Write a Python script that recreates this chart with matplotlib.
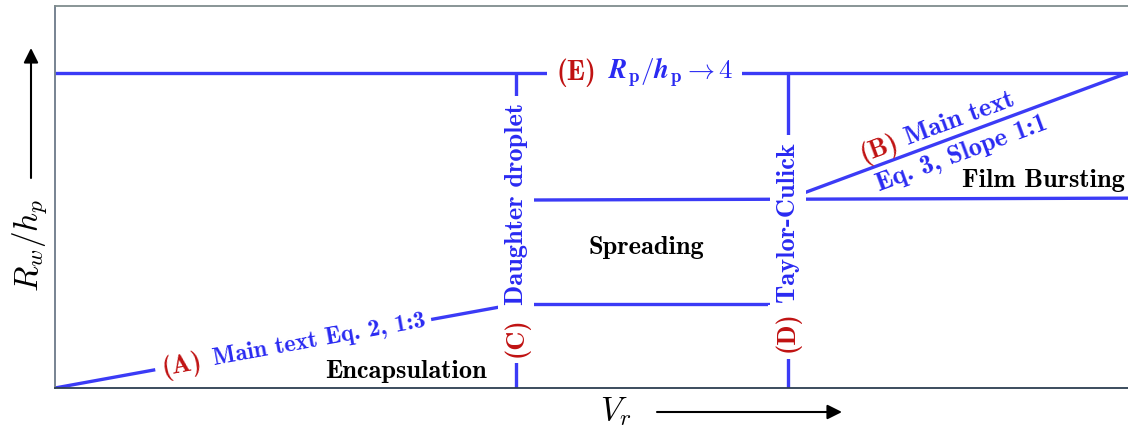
import numpy as np
import matplotlib.pyplot as plt

plt.rcParams['mathtext.fontset'] = 'cm'

# Regime map boundaries, schematic units for V_r (x) and R_w/h_p (y)
cap_x = [0.0, 100.0]
cap_y = [82.5, 82.5]
line_A_x = [0.0, 43.0]
line_A_y = [0.0, 22.0]
line_B_x = [68.3, 100.0]
line_B_y = [49.5, 82.5]
spread_lo_x = [43.0, 68.3]
spread_lo_y = [22.0, 22.0]
spread_hi_x = [43.0, 100.0]
spread_hi_y = [49.2, 49.7]
x_C = 43.0
x_D = 68.3
vert_y = [0.0, 82.5]

BLUE_LINE = '#3b3bf6'
BLUE_TEXT = '#2a2af2'
RED = '#c01212'
BOLD = 'cmb10'
FS = 19

W, H = 1128, 434
fig = plt.figure(figsize=(W / 100, H / 100), dpi=100)
ax = fig.add_axes([55 / W, 46 / H, 1 - 55 / W, 382 / H])
ax.set_xlim(0, 100)
ax.set_ylim(0, 100)
ax.set_xticks([])
ax.set_yticks([])
ax.spines['right'].set_visible(False)
ax.spines['top'].set_color('#7f8c8d')
ax.spines['left'].set_color('#6c7a89')
ax.spines['bottom'].set_color('#2c3e50')
for s in ax.spines.values():
    s.set_linewidth(1.3)
    s.set_zorder(10)

lw = 2.4
for xs, ys in [(cap_x, cap_y), (line_A_x, line_A_y), (line_B_x, line_B_y),
               (spread_lo_x, spread_lo_y), (spread_hi_x, spread_hi_y),
               ([x_C, x_C], vert_y), ([x_D, x_D], vert_y)]:
    ax.plot(xs, ys, color=BLUE_LINE, lw=lw, solid_capstyle='butt')


def white(pad):
    return dict(boxstyle=f'square,pad={pad}', fc='white', ec='none')


def line_angle(xs, ys):
    p = ax.transData.transform(np.column_stack([xs, ys]))
    d = p[1] - p[0]
    return np.degrees(np.arctan2(d[1], d[0])), d / np.hypot(*d)


def along(xs, ys, x, text, color, offset=0.0, pad=None, size=FS):
    ang, u = line_angle(xs, ys)
    y = np.interp(x, xs, ys)
    n = np.array([-u[1], u[0]]) * offset
    ax.annotate(text, (x, y), xytext=(n[0], n[1]), textcoords='offset pixels',
                rotation=ang, rotation_mode='anchor', ha='center', va='center',
                color=color, fontsize=size, family=BOLD,
                bbox=white(pad) if pad is not None else None, zorder=5)


# (A) label along the encapsulation boundary
along(line_A_x, line_A_y, 11.8, '(A)', RED, pad=0.25)
along(line_A_x, line_A_y, 24.6, 'Main text Eq. 2, 1:3', BLUE_TEXT, pad=0.25, size=17.5)

# (B) label on either side of the film-bursting boundary
along(line_B_x, line_B_y, 77.3, '(B)', RED, offset=15)
along(line_B_x, line_B_y, 84.8, 'Main text', BLUE_TEXT, offset=15)
along(line_B_x, line_B_y, 83.9, 'Eq. 3, Slope 1:1', BLUE_TEXT, offset=-18)

# (E) plateau label
ax.text(48.6, cap_y[0], '(E)', color=RED, fontsize=20, family=BOLD,
        ha='center', va='center', bbox=white(0.35), zorder=5)
ax.text(57.4, cap_y[0], r'$\boldsymbol{R}_{\mathbf{p}}/\boldsymbol{h}_{\mathbf{p}}\rightarrow\mathbf{4}$',
        color=BLUE_TEXT, fontsize=19.5, ha='center', va='center',
        bbox=white(0.3), zorder=5)

# vertical boundary labels
for x, y, label, color in [(x_C, 48.2, 'Daughter droplet', BLUE_TEXT),
                           (x_C, 13.4, '(C)', RED),
                           (x_D, 43.5, 'Taylor-Culick', BLUE_TEXT),
                           (x_D, 14.7, '(D)', RED)]:
    ax.text(x, y, label, color=color, fontsize=FS, family=BOLD, rotation=90,
            ha='center', va='center', bbox=white(0.25), zorder=5)

# regime names
ax.text(32.7, 4.4, 'Encapsulation', color='black', fontsize=FS, family=BOLD, ha='center', va='center')
ax.text(55.1, 36.9, 'Spreading', color='black', fontsize=FS, family=BOLD, ha='center', va='center')
ax.text(92.1, 54.4, 'Film Bursting', color='black', fontsize=FS, family=BOLD, ha='center', va='center')

# axis labels with direction arrows
fig.text(30 / W, (H - 245) / H, r'$R_w/h_p$', fontsize=24, rotation=90, ha='center', va='center')
fig.text(616 / W, (H - 412) / H, r'$V_r$', fontsize=24, ha='center', va='center')
arrow = dict(arrowstyle='-|>', color='black', lw=1.5, mutation_scale=22, shrinkA=0, shrinkB=0)
fig.add_artist(plt.Annotation('', xy=(31 / W, (H - 48) / H), xytext=(31 / W, (H - 178) / H),
                              xycoords='figure fraction', textcoords='figure fraction', arrowprops=arrow))
fig.add_artist(plt.Annotation('', xy=(842 / W, (H - 412) / H), xytext=(657 / W, (H - 412) / H),
                              xycoords='figure fraction', textcoords='figure fraction', arrowprops=arrow))

fig.savefig('out.png', dpi=100)
